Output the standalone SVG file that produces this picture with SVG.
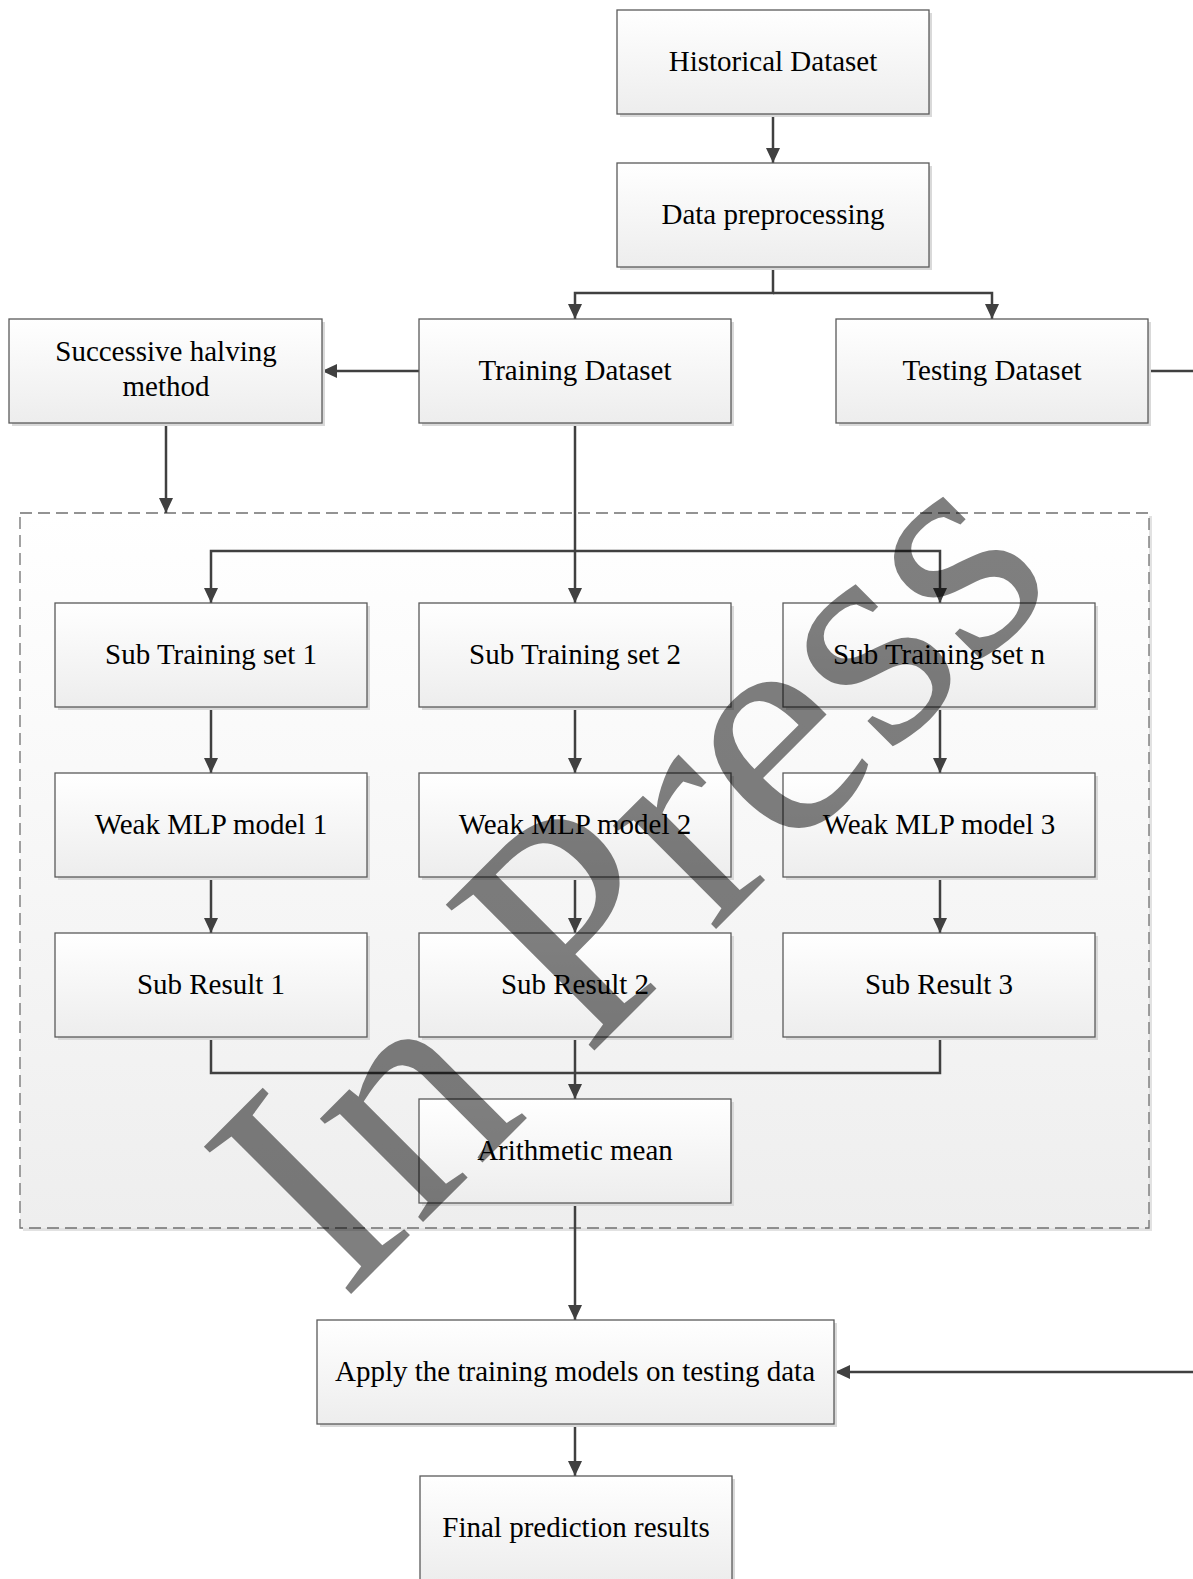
<svg xmlns="http://www.w3.org/2000/svg" width="1193" height="1579" viewBox="0 0 1193 1579">
<defs>
<linearGradient id="g" x1="0" y1="0" x2="0" y2="1">
<stop offset="0" stop-color="#ffffff"/>
<stop offset="1" stop-color="#ededed"/>
</linearGradient>
<linearGradient id="gc" x1="0" y1="0" x2="0" y2="1">
<stop offset="0" stop-color="#ffffff"/>
<stop offset="1" stop-color="#eeeeee"/>
</linearGradient>
<marker id="arr" viewBox="0 0 15 14" refX="15" refY="7" markerWidth="15" markerHeight="14" markerUnits="userSpaceOnUse" orient="auto">
<path d="M0,0 L15,7 L0,14 z" fill="#404040"/>
</marker>
</defs>
<style>
.box{fill:url(#g);stroke:#5a5a5a;stroke-width:1.3}
.sh{fill:#d9d9d9}
.lbl{font-family:"Liberation Serif","Times New Roman",serif;font-size:29px;text-anchor:middle;fill:#000}
.conn{fill:none;stroke:#404040;stroke-width:2.5}
.wm{font-family:"Liberation Serif","Times New Roman",serif;font-size:318px;fill:#000;fill-opacity:0.5}
</style>
<rect width="1193" height="1579" fill="#ffffff"/>

<g id="container">
<rect x="23" y="516" width="1129" height="715" fill="#e2e2e2"/>
<rect x="20" y="513" width="1129" height="715" fill="url(#gc)" stroke="#707070" stroke-width="1.3" stroke-dasharray="12,6"/>
</g>

<g id="connectors">
<path class="conn" d="M773,114 V163" marker-end="url(#arr)"/>
<path class="conn" d="M773,267 V293 H575 V319" marker-end="url(#arr)"/>
<path class="conn" d="M773,293 H992 V319" marker-end="url(#arr)"/>
<path class="conn" d="M419,371 H322" marker-end="url(#arr)"/>
<path class="conn" d="M166,423 V513" marker-end="url(#arr)"/>
<path class="conn" d="M575,423 V603" marker-end="url(#arr)"/>
<path class="conn" d="M575,551 H211 V603" marker-end="url(#arr)"/>
<path class="conn" d="M575,551 H940 V603" marker-end="url(#arr)"/>
<path class="conn" d="M211,707 V773" marker-end="url(#arr)"/>
<path class="conn" d="M575,707 V773" marker-end="url(#arr)"/>
<path class="conn" d="M940,707 V773" marker-end="url(#arr)"/>
<path class="conn" d="M211,877 V933" marker-end="url(#arr)"/>
<path class="conn" d="M575,877 V933" marker-end="url(#arr)"/>
<path class="conn" d="M940,877 V933" marker-end="url(#arr)"/>
<path class="conn" d="M211,1037 V1073 H940 V1037"/>
<path class="conn" d="M575,1037 V1099" marker-end="url(#arr)"/>
<path class="conn" d="M575,1203 V1320" marker-end="url(#arr)"/>
<path class="conn" d="M575,1424 V1476" marker-end="url(#arr)"/>
<path class="conn" d="M1148,371 H1205 V1372 H835" marker-end="url(#arr)"/>
</g>

<g id="historical">
<rect class="sh" x="620" y="13" width="312" height="104"/>
<rect class="box" x="617" y="10" width="312" height="104"/>
<text class="lbl" x="773" y="71">Historical Dataset</text>
</g>
<g id="preprocessing">
<rect class="sh" x="620" y="166" width="312" height="104"/>
<rect class="box" x="617" y="163" width="312" height="104"/>
<text class="lbl" x="773" y="224">Data preprocessing</text>
</g>
<g id="successive">
<rect class="sh" x="12" y="322" width="313" height="104"/>
<rect class="box" x="9" y="319" width="313" height="104"/>
<text class="lbl" x="166" y="361">Successive halving</text>
<text class="lbl" x="166" y="396">method</text>
</g>
<g id="training">
<rect class="sh" x="422" y="322" width="312" height="104"/>
<rect class="box" x="419" y="319" width="312" height="104"/>
<text class="lbl" x="575" y="380">Training Dataset</text>
</g>
<g id="testing">
<rect class="sh" x="839" y="322" width="312" height="104"/>
<rect class="box" x="836" y="319" width="312" height="104"/>
<text class="lbl" x="992" y="380">Testing Dataset</text>
</g>

<g id="sub1">
<rect class="sh" x="58" y="606" width="312" height="104"/>
<rect class="box" x="55" y="603" width="312" height="104"/>
<text class="lbl" x="211" y="664">Sub Training set 1</text>
</g>
<g id="sub2">
<rect class="sh" x="422" y="606" width="312" height="104"/>
<rect class="box" x="419" y="603" width="312" height="104"/>
<text class="lbl" x="575" y="664">Sub Training set 2</text>
</g>
<g id="subn">
<rect class="sh" x="786" y="606" width="312" height="104"/>
<rect class="box" x="783" y="603" width="312" height="104"/>
<text class="lbl" x="939" y="664">Sub Training set n</text>
</g>

<g id="weak1">
<rect class="sh" x="58" y="776" width="312" height="104"/>
<rect class="box" x="55" y="773" width="312" height="104"/>
<text class="lbl" x="211" y="834">Weak MLP model 1</text>
</g>
<g id="weak2">
<rect class="sh" x="422" y="776" width="312" height="104"/>
<rect class="box" x="419" y="773" width="312" height="104"/>
<text class="lbl" x="575" y="834">Weak MLP model 2</text>
</g>
<g id="weak3">
<rect class="sh" x="786" y="776" width="312" height="104"/>
<rect class="box" x="783" y="773" width="312" height="104"/>
<text class="lbl" x="939" y="834">Weak MLP model 3</text>
</g>

<g id="result1">
<rect class="sh" x="58" y="936" width="312" height="104"/>
<rect class="box" x="55" y="933" width="312" height="104"/>
<text class="lbl" x="211" y="994">Sub Result 1</text>
</g>
<g id="result2">
<rect class="sh" x="422" y="936" width="312" height="104"/>
<rect class="box" x="419" y="933" width="312" height="104"/>
<text class="lbl" x="575" y="994">Sub Result 2</text>
</g>
<g id="result3">
<rect class="sh" x="786" y="936" width="312" height="104"/>
<rect class="box" x="783" y="933" width="312" height="104"/>
<text class="lbl" x="939" y="994">Sub Result 3</text>
</g>

<g id="mean">
<rect class="sh" x="422" y="1102" width="312" height="104"/>
<rect class="box" x="419" y="1099" width="312" height="104"/>
<text class="lbl" x="575" y="1160">Arithmetic mean</text>
</g>
<g id="apply">
<rect class="sh" x="320" y="1323" width="517" height="104"/>
<rect class="box" x="317" y="1320" width="517" height="104"/>
<text class="lbl" x="575" y="1381">Apply the training models on testing data</text>
</g>
<g id="final">
<rect class="sh" x="423" y="1479" width="312" height="104"/>
<rect class="box" x="420" y="1476" width="312" height="104"/>
<text class="lbl" x="576" y="1537">Final prediction results</text>
</g>

<g id="watermark">
<text class="wm" transform="translate(343,1302) rotate(-45)">In Press</text>
</g>
</svg>
